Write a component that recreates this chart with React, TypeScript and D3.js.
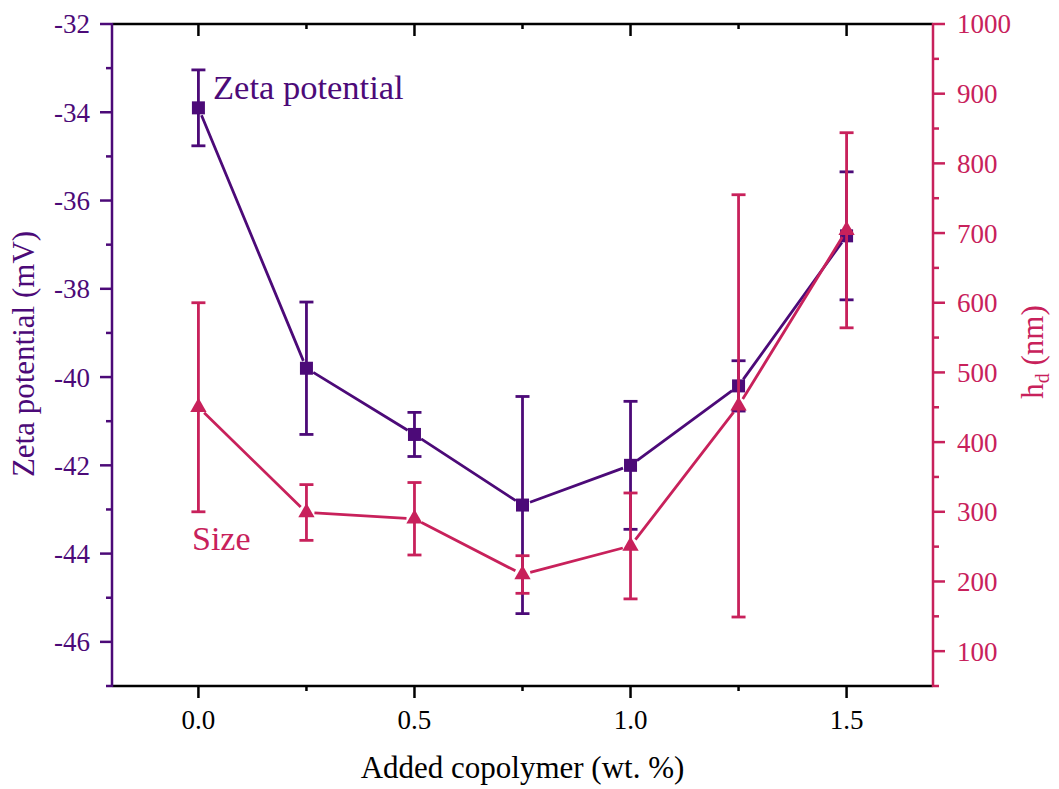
import React from 'react';
import * as d3 from 'd3';

// copolymer loading (wt. %)
const loading = [0, 0.25, 0.5, 0.75, 1.0, 1.25, 1.5];
// zeta potential (mV) and its error
const zeta = [-33.9, -39.8, -41.3, -42.9, -42.0, -40.2, -36.8];
const zetaErr = [0.86, 1.5, 0.5, 2.46, 1.45, 0.57, 1.45];
// hydrodynamic size (nm) and its error
const size = [450, 299, 290, 210, 251, 452, 704];
const sizeErr = [150, 40, 52, 27, 76, 303, 140];

const xTicks = [0, 0.5, 1.0, 1.5];
const zetaTicks = [-32, -34, -36, -38, -40, -42, -44, -46];
const sizeTicks = [100, 200, 300, 400, 500, 600, 700, 800, 900, 1000];

const PURPLE = '#4c0a78';
const PINK = '#c8215b';
const FONT = "'Liberation Serif', 'Times New Roman', serif";

const W = 1059;
const H = 789;
const plot = { left: 112, right: 933, top: 24, bottom: 686 };

// shorten a segment at both ends so the line does not touch the markers
function gapSegments(pts: [number, number][], gap: number) {
  const segs: string[] = [];
  for (let i = 0; i < pts.length - 1; i++) {
    const [x1, y1] = pts[i];
    const [x2, y2] = pts[i + 1];
    const len = Math.hypot(x2 - x1, y2 - y1);
    const ux = (x2 - x1) / len;
    const uy = (y2 - y1) / len;
    segs.push(`M${x1 + ux * gap},${y1 + uy * gap}L${x2 - ux * gap},${y2 - uy * gap}`);
  }
  return segs.join('');
}

const txt = { fontFamily: FONT };

export default function App() {
  const x = d3.scaleLinear().domain([-0.2, 1.7]).range([plot.left, plot.right]);
  const yZ = d3.scaleLinear().domain([-47, -32]).range([plot.bottom, plot.top]);
  const yS = d3.scaleLinear().domain([50, 1000]).range([plot.bottom, plot.top]);

  const xMinor = d3.range(0, 1.51, 0.25);
  const zMinor = d3.range(-47, -32.5, 1).filter(v => !zetaTicks.includes(v));
  const sMinor = d3.range(50, 1000, 100);

  const zPts = loading.map((l, i) => [x(l), yZ(zeta[i])] as [number, number]);
  const sPts = loading.map((l, i) => [x(l), yS(size[i])] as [number, number]);
  const cap = 7;
  const tri = d3.symbol().type(d3.symbolTriangle).size(115)();

  return (
    <svg width={W} height={H} style={{ position: 'absolute', left: 0, top: 0, background: '#fff' }}>
      {/* bottom & top axes */}
      <line x1={plot.left} x2={plot.right} y1={plot.bottom} y2={plot.bottom} stroke="#000" strokeWidth={2.5} />
      <line x1={plot.left} x2={plot.right} y1={plot.top} y2={plot.top} stroke="#000" strokeWidth={2.5} />
      {xMinor.map(v => {
        const major = xTicks.some(t => Math.abs(t - v) < 1e-9);
        const len = major ? 12 : 5;
        return (
          <g key={'xt' + v}>
            <line x1={x(v)} x2={x(v)} y1={plot.bottom} y2={plot.bottom + len} stroke="#000" strokeWidth={2.5} />
            <line x1={x(v)} x2={x(v)} y1={plot.top} y2={plot.top + len} stroke="#000" strokeWidth={2.5} />
          </g>
        );
      })}
      {xTicks.map(v => (
        <text key={'xl' + v} x={x(v)} y={729} textAnchor="middle" fontSize={27} fill="#000" style={txt}>
          {v.toFixed(1)}
        </text>
      ))}
      <text x={(plot.left + plot.right) / 2} y={778} textAnchor="middle" fontSize={31} fill="#000" style={txt}>
        Added copolymer (wt. %)
      </text>

      {/* left axis: zeta potential */}
      <line x1={plot.left} x2={plot.left} y1={plot.top - 1} y2={plot.bottom + 1} stroke={PURPLE} strokeWidth={2.5} />
      {zetaTicks.map(v => (
        <g key={'zt' + v}>
          <line x1={plot.left - 12} x2={plot.left} y1={yZ(v)} y2={yZ(v)} stroke={PURPLE} strokeWidth={2.5} />
          <text x={90} y={yZ(v)} dy="0.35em" textAnchor="end" fontSize={27} fill={PURPLE} style={txt}>{v}</text>
        </g>
      ))}
      {zMinor.map(v => (
        <line key={'zm' + v} x1={plot.left - 6} x2={plot.left} y1={yZ(v)} y2={yZ(v)} stroke={PURPLE} strokeWidth={2.5} />
      ))}
      <text transform="translate(34,354) rotate(-90)" textAnchor="middle" fontSize={31} fill={PURPLE} style={txt}>
        Zeta potential (mV)
      </text>

      {/* right axis: size */}
      <line x1={plot.right} x2={plot.right} y1={plot.top - 1} y2={plot.bottom + 1} stroke={PINK} strokeWidth={2.5} />
      {sizeTicks.map(v => (
        <g key={'st' + v}>
          <line x1={plot.right} x2={plot.right + 12} y1={yS(v)} y2={yS(v)} stroke={PINK} strokeWidth={2.5} />
          <text x={957} y={yS(v)} dy="0.35em" textAnchor="start" fontSize={27} fill={PINK} style={txt}>{v}</text>
        </g>
      ))}
      {sMinor.map(v => (
        <line key={'sm' + v} x1={plot.right} x2={plot.right + 6} y1={yS(v)} y2={yS(v)} stroke={PINK} strokeWidth={2.5} />
      ))}
      <text transform="translate(1043,352) rotate(-90)" textAnchor="middle" fontSize={31} fill={PINK} style={txt}>
        h<tspan fontSize={20} dy={6}>d</tspan><tspan dy={-6}> (nm)</tspan>
      </text>

      {/* zeta series */}
      <path d={gapSegments(zPts, 8)} fill="none" stroke={PURPLE} strokeWidth={2.8} />
      {loading.map((l, i) => (
        <g key={'ze' + i} stroke={PURPLE} strokeWidth={2.8}>
          <line x1={x(l)} x2={x(l)} y1={yZ(zeta[i] + zetaErr[i])} y2={yZ(zeta[i] - zetaErr[i])} />
          <line x1={x(l) - cap} x2={x(l) + cap} y1={yZ(zeta[i] + zetaErr[i])} y2={yZ(zeta[i] + zetaErr[i])} />
          <line x1={x(l) - cap} x2={x(l) + cap} y1={yZ(zeta[i] - zetaErr[i])} y2={yZ(zeta[i] - zetaErr[i])} />
        </g>
      ))}
      {zPts.map(([px, py], i) => (
        <rect key={'zs' + i} x={px - 6.5} y={py - 6.5} width={13} height={13} fill={PURPLE} />
      ))}

      {/* size series */}
      <path d={gapSegments(sPts, 8)} fill="none" stroke={PINK} strokeWidth={2.8} />
      {loading.map((l, i) => (
        <g key={'se' + i} stroke={PINK} strokeWidth={2.8}>
          <line x1={x(l)} x2={x(l)} y1={yS(size[i] + sizeErr[i])} y2={yS(size[i] - sizeErr[i])} />
          <line x1={x(l) - cap} x2={x(l) + cap} y1={yS(size[i] + sizeErr[i])} y2={yS(size[i] + sizeErr[i])} />
          <line x1={x(l) - cap} x2={x(l) + cap} y1={yS(size[i] - sizeErr[i])} y2={yS(size[i] - sizeErr[i])} />
        </g>
      ))}
      {sPts.map(([px, py], i) => (
        <path key={'sp' + i} d={tri ?? ''} transform={`translate(${px},${py})`} fill={PINK} />
      ))}

      {/* series labels */}
      <text x={213} y={99} fontSize={34.5} fill={PURPLE} style={txt}>Zeta potential</text>
      <text x={192} y={550} fontSize={34} fill={PINK} style={txt}>Size</text>
    </svg>
  );
}
